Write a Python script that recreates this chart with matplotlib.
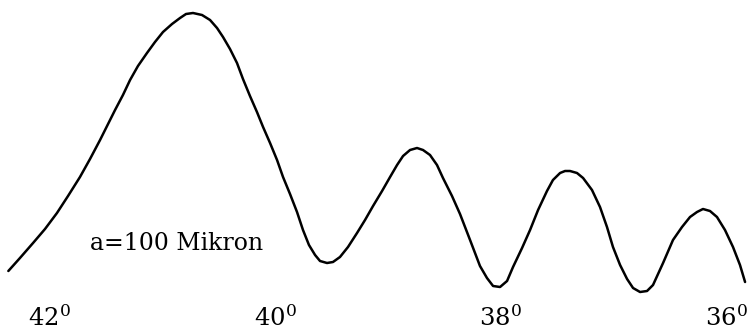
import matplotlib
matplotlib.use("Agg")
import matplotlib.pyplot as plt
import matplotlib.transforms as mtransforms

plt.rcParams['font.family'] = ['DejaVu Serif']
plt.rcParams['mathtext.fontset'] = 'dejavuserif'

# angle in degrees and relative intensity
angle = [42.325, 42.222, 42.106, 42.000, 41.894, 41.796, 41.690, 41.601, 41.512, 41.450,
         41.379, 41.309, 41.246, 41.176, 41.096, 41.025, 40.954, 40.874, 40.803, 40.750,
         40.688, 40.608, 40.537, 40.475, 40.422, 40.360, 40.298, 40.245, 40.183, 40.121,
         40.067, 40.005, 39.943, 39.890, 39.828, 39.766, 39.713, 39.660, 39.606, 39.562,
         39.500, 39.447, 39.385, 39.314, 39.234, 39.163, 39.092, 39.012, 38.941, 38.879,
         38.826, 38.764, 38.702, 38.649, 38.587, 38.525, 38.472, 38.392, 38.321, 38.232,
         38.144, 38.082, 38.028, 37.966, 37.904, 37.851, 37.771, 37.700, 37.629, 37.550,
         37.497, 37.434, 37.390, 37.346, 37.284, 37.230, 37.151, 37.080, 37.018, 36.965,
         36.902, 36.840, 36.787, 36.725, 36.663, 36.610, 36.521, 36.433, 36.353, 36.282,
         36.220, 36.167, 36.105, 36.043, 35.972, 35.901, 35.839, 35.794]
intensity = [29, 42, 57, 71, 87, 104, 123, 141, 160, 174,
             190, 205, 220, 234, 247, 258, 268, 276, 282, 286,
             287, 285, 280, 272, 263, 251, 237, 221, 204, 188,
             173, 157, 140, 123, 106, 88, 70, 55, 45, 39,
             37, 38, 43, 53, 67, 80, 94, 109, 123, 135,
             144, 150, 152, 150, 145, 135, 122, 104, 86, 60,
             34, 22, 14, 13, 19, 33, 52, 70, 90, 109,
             120, 127, 129, 129, 127, 122, 110, 93, 73, 53,
             35, 21, 12, 8, 9, 15, 37, 60, 73, 83,
             88, 91, 89, 83, 70, 53, 35, 18]

tick_angles = [42, 40, 38, 36]
tick_labels = [r'$42^{0}$', r'$40^{0}$', r'$38^{0}$', r'$36^{0}$']
note = 'a=100 Mikron'

fig = plt.figure(figsize=(7.48, 3.31), dpi=100)
ax = fig.add_axes([0, 0, 1, 1])

ax.plot(angle, intensity, color='black', linewidth=1.8,
        solid_joinstyle='round', solid_capstyle='round')

ax.set_xlim(42.399, 35.768)
ax.set_ylim(-31, 300)
ax.axis('off')

# angle labels along the bottom
shift = mtransforms.offset_copy(ax.get_xaxis_transform(), fig=fig,
                                x=4.5, y=0, units='dots')
for a, lab in zip(tick_angles, tick_labels):
    ax.text(a, 5 / 331, lab, transform=shift, ha='center', va='baseline',
            fontsize=17.5)

fig.text(90 / 748, (331 - 250) / 331, note, ha='left', va='baseline',
         fontsize=17)

fig.savefig('out.png', dpi=100, facecolor='white')
